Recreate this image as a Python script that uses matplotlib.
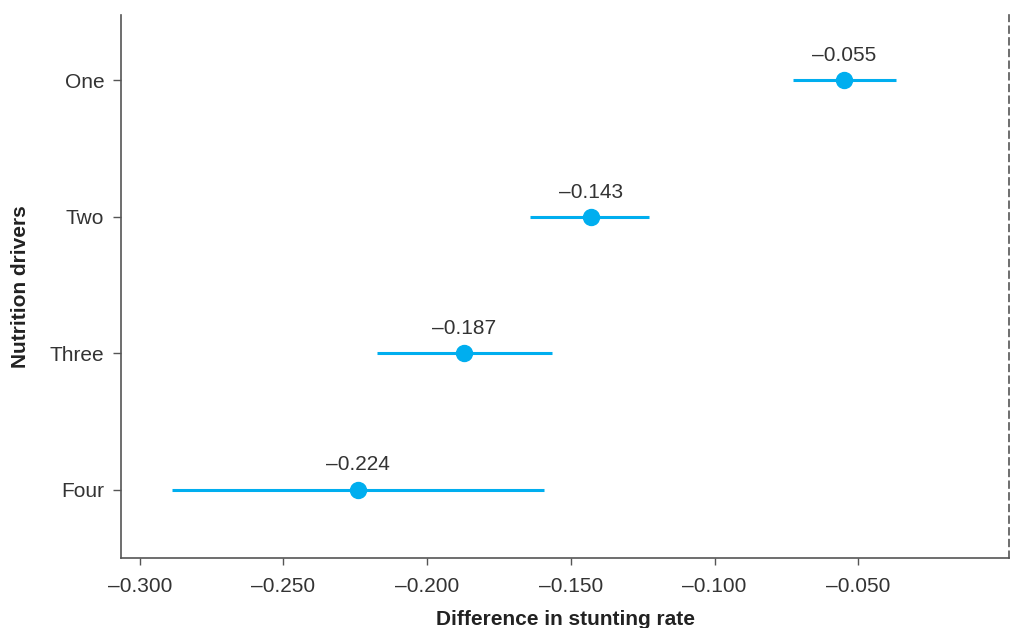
import numpy as np
import matplotlib.pyplot as plt

plt.rcParams['font.family'] = ['Liberation Sans', 'DejaVu Sans']

groups = ['One', 'Two', 'Three', 'Four']
estimates = [-0.055, -0.143, -0.187, -0.224]
ci_low = [-0.0728, -0.1643, -0.2175, -0.2888]
ci_high = [-0.0370, -0.1229, -0.1566, -0.1594]
xticks = [-0.300, -0.250, -0.200, -0.150, -0.100, -0.050]

blue = '#00AEEF'
dark = '#333333'

fig = plt.figure(figsize=(10.17, 6.28), dpi=100)
ax = fig.add_axes([0.119, 0.1115, 0.8733, 0.8646])

ypos = np.arange(len(groups))[::-1]
for y, est, lo, hi in zip(ypos, estimates, ci_low, ci_high):
    ax.plot([lo, hi], [y, y], color=blue, lw=2.2, solid_capstyle='butt', zorder=2)
    ax.plot(est, y, 'o', color=blue, ms=11.5, zorder=3)
    ax.annotate(f'\u2013{abs(est):.3f}', (est, y), xytext=(0, 11),
                textcoords='offset points', ha='center', va='bottom',
                fontsize=15, color=dark)

ax.set_xlim(-0.3065, 0.0025)
ax.set_ylim(-0.5, 3.48)
ax.set_yticks(ypos)
ax.set_yticklabels(groups)
ax.set_xticks(xticks)
ax.set_xticklabels([f'\u2013{abs(t):.3f}' for t in xticks])
ax.tick_params(labelsize=15, labelcolor=dark, color='#555555', width=1)
ax.tick_params(axis='x', length=5, pad=9)
ax.tick_params(axis='y', length=5.5, pad=6.5)

ax.spines['top'].set_visible(False)
ax.spines['right'].set_linestyle((0, (4, 3)))
for s in ['left', 'bottom', 'right']:
    ax.spines[s].set_color('#555555')
    ax.spines[s].set_linewidth(1.2)

ax.set_xlabel('Difference in stunting rate', fontsize=15, fontweight='bold',
              color='#222222', labelpad=10)
ax.set_ylabel('Nutrition drivers', fontsize=15, fontweight='bold',
              color='#222222', labelpad=14)

plt.savefig('out.png', dpi=100)
